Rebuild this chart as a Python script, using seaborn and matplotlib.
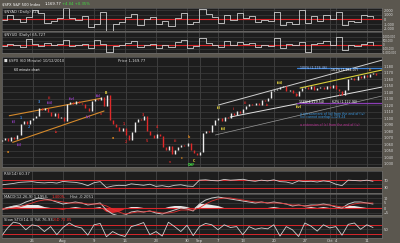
import numpy as np
import pandas as pd
import matplotlib
matplotlib.use("Agg")
import matplotlib.pyplot as plt
import seaborn as sns

# ---------------- data ----------------
title_name = "$SPX S&P 500 Index"
title_last = "1,169.77"
title_change = "+4.04 +0.35%"

tick_days = [0, 5, 10, 15, 20, 25, 30, 32, 35, 39, 44, 49, 53, 54, 59]
tick_labels = ["Jul", "26", "Aug", "9", "16", "23", "30", "Sep", "7", "13",
               "20", "27", "Oct", "4", "11"]

# closes, two per trading day (day = index / 2)
price_close = [1066.7, 1069.8, 1065.2, 1071.3, 1068.2, 1074.4, 1091.2, 1095.8, 1091.2, 1097.3,
               1100.4, 1103.4, 1115.7, 1112.6, 1115.7, 1109.6, 1103.4, 1108.0, 1100.4, 1101.9,
               1095.8, 1121.8, 1124.9, 1121.8, 1126.4, 1123.4, 1121.8, 1115.7, 1111.1, 1126.4,
               1129.5, 1127.9, 1132.5, 1118.8, 1135.6, 1097.3, 1091.2, 1086.6, 1080.5, 1085.1,
               1074.4, 1066.7, 1079.0, 1094.3, 1098.9, 1097.3, 1103.4, 1080.5, 1074.4, 1069.8,
               1075.9, 1072.8, 1056.0, 1051.4, 1057.5, 1045.3, 1051.4, 1056.0, 1059.0, 1057.5,
               1062.1, 1051.4, 1046.8, 1043.7, 1048.3, 1077.4, 1080.5, 1079.0, 1089.7, 1097.3,
               1100.4, 1095.8, 1101.9, 1100.4, 1108.0, 1105.0, 1111.1, 1108.0, 1114.2, 1118.8,
               1121.8, 1120.3, 1123.4, 1120.3, 1127.9, 1126.4, 1131.0, 1141.7, 1143.3, 1144.8,
               1147.8, 1149.4, 1141.7, 1143.3, 1138.7, 1134.1, 1141.7, 1146.3, 1147.8, 1144.8,
               1149.4, 1143.3, 1146.3, 1147.8, 1144.8, 1149.4, 1146.3, 1150.9, 1144.8, 1141.7,
               1135.6, 1143.3, 1160.1, 1161.6, 1158.6, 1164.7, 1161.6, 1166.2, 1163.2, 1167.8,
               1169.3, 1166.2]
price_ticks = [1180, 1170, 1160, 1150, 1140, 1130, 1120, 1110, 1100, 1090,
               1080, 1070, 1060, 1050, 1040, 1030]

# daily indicators (one value per trading day)
nyad = [-100, 1000, 100, -500, 500, 2000, 1400, -800, -300, 300,
        2400, 300, -100, 800, -1600, -1000, 1600, -2400, -1000, -600,
        500, 1200, -1200, 100, 500, -1000, -300, -1400, 300, 1400,
        -1000, -500, 2300, 1200, 600, -700, 1000, -100, 1400, 300,
        800, -500, -100, -300, 1600, -1200, -500, -1000, 2100, -700,
        800, -300, 1000, 100, 1600, -1200, -300, -500, 1000, 800, 300]
nyud = [-125000, 125000, 0, -250000, 750000, 125000, -125000, 250000, 0, 125000,
        625000, -125000, 0, 125000, -375000, 625000, 125000, -875000, -125000, 0,
        250000, 500000, -250000, 0, 125000, -375000, 0, -250000, 375000, 625000,
        -375000, -125000, 875000, 250000, 0, -250000, 500000, 0, 375000, 125000,
        250000, -250000, 0, -125000, 875000, -375000, 125000, 0, 375000, -875000,
        125000, 250000, 500000, 0, 1000000, -625000, 0, -125000, 125000, 375000, 0]
rsi = [44, 48, 52, 58, 60, 62, 57, 55, 58, 54,
       63, 60, 58, 52, 40, 56, 62, 30, 38, 42,
       40, 50, 46, 42, 48, 36, 40, 34, 42, 45,
       38, 36, 70, 72, 68, 66, 74, 70, 72, 75,
       68, 64, 70, 66, 72, 62, 60, 52, 66, 62,
       64, 60, 66, 62, 48, 40, 70, 68, 66, 70, 64]
macd = [-2, 0, 2, 3, 6, 8, 10, 9, 8, 6,
        4, 5, 6, 5, 3, 4, 5, -2, -6, -8,
        -7, -4, -3, -4, -3, -5, -6, -4, -2, 0,
        -1, -3, 4, 8, 10, 11, 10, 9, 8, 7,
        6, 5, 6, 5, 6, 5, 4, 2, 3, 2,
        3, 3, 4, 3, 1, 0, 4, 6, 6, 5, 4]
macd_signal = [-1, -1, 0, 1, 3, 5, 7, 8, 8, 7,
               6, 5, 5, 5, 4, 4, 4, 2, -1, -4,
               -6, -5, -4, -4, -3, -4, -5, -5, -4, -2,
               -2, -2, 0, 4, 7, 9, 10, 10, 9, 8,
               7, 6, 6, 5, 5, 5, 4, 3, 3, 2,
               2, 3, 3, 3, 2, 1, 2, 4, 5, 5, 5]
stoch_k = [2, 57, 99, 90, 48, 81, 72, 36, 69, 15,
           63, 93, 70, 60, 12, 81, 90, 1, 36, 15,
           3, 69, 81, 96, 15, 36, 6, 98, 69, 36,
           78, 9, 69, 90, 81, 48, 81, 63, 69, 15,
           69, 51, 60, 54, 81, 6, 69, 48, 3, 93,
           72, 39, 81, 60, 69, 12, 84, 93, 51, 81, 63]

# chartist annotations (day, price)
trend_lines = [
    (1.18, 1103.9, 15.97, 1130.5, "#d4892b", 0.8),
    (1.73, 1063.2, 16.5, 1111.1, "#d4892b", 0.8),
    (35.0, 1120.3, 61.45, 1189.0, "#cfcfcf", 0.7),
    (48.2, 1146.3, 61.45, 1173.9, "#d8cf3a", 0.8),
    (36.9, 1101.9, 61.45, 1147.8, "#e0e0e0", 0.7),
    (34.5, 1074.4, 61.45, 1134.1, "#9a9a9a", 0.5),
]
fib_lines = [(1176.5, 47.7, 61.45, "#3b82d6"), (1122.9, 47.7, 61.45, "#8c3db5")]
notes = [
    (1.9, 1173.9, "60 minute chart", "#ffffff"),
    (48.2, 1177.5, "100% (1,176.46)", "#9fc3ff"),
    (53.2, 1174.0, "161% (1,184.07)", "#ffffff"),
    (48.0, 1124.5, "123%(1,129.54)", "#ffffff"),
    (53.4, 1124.5, "62% (1,122.90)", "#ffffff"),
    (48.2, 1106.5, "a retracement of (iii) from the end of (iv)", "#3b9be6"),
    (48.2, 1101.9, "(iv) cannot overlap 1,129.24", "#3b9be6"),
    (48.2, 1089.7, "a extension of (c) from the end of (iv)", "#c0309a"),
]
wave_labels = [
    (0.97, 1048.3, "a", "#e08a20"), (1.94, 1094.3, "(i)", "#8c3db5"),
    (3.06, 1100.4, "1", "#3b82d6"), (2.74, 1059.0, "(ii)", "#8c3db5"),
    (4.35, 1086.6, "2", "#3b82d6"), (5.97, 1124.9, "3", "#3b82d6"),
    (7.74, 1130.5, "iii", "#d02a2a"), (7.74, 1123.4, "(iii)", "#8c3db5"),
    (8.87, 1079.0, "iv", "#d02a2a"), (11.29, 1129.5, "(iv)", "#8c3db5"),
    (14.03, 1101.9, "(v)", "#8c3db5"), (15.65, 1134.1, "(b)", "#8c3db5"),
    (16.77, 1138.0, "B", "#e8d840"), (15.97, 1106.5, "v", "#d02a2a"),
    (19.68, 1091.2, "1", "#d02a2a"), (20.0, 1063.6, "2", "#d02a2a"),
    (17.9, 1069.8, "a", "#e08a20"), (22.74, 1105.0, "3", "#d02a2a"),
    (25.0, 1086.6, "4", "#d02a2a"), (23.39, 1065.2, "5", "#d02a2a"),
    (28.06, 1065.2, "iii", "#d02a2a"), (27.1, 1033.0, "v", "#d02a2a"),
    (30.16, 1071.3, "b", "#e08a20"), (29.0, 1039.2, "c", "#e08a20"),
    (30.97, 1034.0, "C", "#e8d840"), (30.6, 1028.4, "DHF", "#3fd03f"),
    (35.0, 1115.7, "(i)", "#e8d840"), (35.8, 1083.5, "(ii)", "#e8d840"),
    (37.4, 1114.2, "i", "#d02a2a"), (39.35, 1123.4, "iii", "#d02a2a"),
    (42.9, 1120.3, "iv", "#d02a2a"), (45.0, 1154.0, "(iii)", "#e8d840"),
    (47.7, 1135.6, "v", "#d02a2a"), (48.06, 1117.2, "(iv)", "#e8d840"),
    (54.7, 1135.6, "ii", "#d02a2a"), (59.5, 1173.9, "iii", "#e08a20"),
]

# ---------------- style ----------------
BG = "#5b574f"
PANEL = "#1d1d1d"
GRID = "#3d3d3d"
VGRID = "#4a4a4a"
TXT = "#dcdcdc"
RED = "#d8262a"
W, H = 400.0, 243.0
FS = 2.7

sns.set_style("dark")
plt.rcParams["font.family"] = ["DejaVu Sans"]

fig = plt.figure(figsize=(4.0, 2.43), dpi=100, facecolor=BG)

XMIN, XMAX = 0.16, 61.45


def panel(top, bottom):
    ax = fig.add_axes([2 / W, 1 - bottom / H, 380 / W, (bottom - top) / H])
    ax.set_facecolor(PANEL)
    ax.set_xlim(XMIN, XMAX)
    ax.set_xticks(tick_days)
    ax.grid(False)
    for x in tick_days:
        ax.axvline(x, color=VGRID, lw=0.5, zorder=0)
    for s in ax.spines.values():
        s.set_color("#6e6e6e")
        s.set_linewidth(0.4)
    ax.yaxis.tick_right()
    ax.tick_params(axis="y", labelsize=FS, colors=TXT, length=0, pad=1.2)
    ax.tick_params(axis="x", length=0, labelbottom=False)
    ax.set_xlabel("")
    ax.set_ylabel("")
    return ax


def hgrid(ax, vals):
    for v in vals:
        ax.axhline(v, color=GRID, lw=0.5, zorder=0)


days = np.arange(len(nyad))

# title row
fig.text(2 / W, 1 - 4 / H, title_name, fontsize=FS, color="#ffffff", va="center")
fig.text(45 / W, 1 - 4 / H, title_last, fontsize=FS, color="#ffffff", va="center")
fig.text(62 / W, 1 - 4 / H, title_change, fontsize=FS, color="#40e040", va="center")

# panel 1: NYAD
ax1 = panel(8, 31)
ax1.set_ylim(-2500, 2500)
p1_ticks = [2000, 1000, 0, -1000, -2000]
hgrid(ax1, p1_ticks)
ax1.set_yticks(p1_ticks)
ax1.set_yticklabels([f"{v:,}" for v in p1_ticks])
ax1.tick_params(axis="y", labelsize=2.4)
ax1.axhline(0, color=RED, lw=0.8)
sns.lineplot(x=days, y=nyad, ax=ax1, color="#d0d0d0", lw=0.6, drawstyle="steps-post", legend=False)
ax1.set_xlim(XMIN, XMAX)
ax1.text(0.005, 0.93, "$NYAD (Daily) 228", transform=ax1.transAxes, fontsize=FS, color=TXT, va="top")

# panel 2: NYUD
ax2 = panel(32, 53)
ax2.set_ylim(-1000000, 1625000)
p2_ticks = [1000000, 500000, 0, -500000, -1000000]
hgrid(ax2, p2_ticks)
ax2.set_yticks(p2_ticks)
ax2.set_yticklabels([f"{v:,}" for v in p2_ticks])
ax2.tick_params(axis="y", labelsize=1.9, pad=0.6)
ax2.axhline(0, color=RED, lw=0.8)
sns.lineplot(x=days, y=nyud, ax=ax2, color="#d0d0d0", lw=0.6, drawstyle="steps-post", legend=False)
ax2.set_xlim(XMIN, XMAX)
ax2.text(0.005, 0.95, "$NYUD (Daily) 65,727", transform=ax2.transAxes, fontsize=FS, color=TXT, va="top")

# main price panel
axm = panel(57, 167)
axm.set_ylim(1025.4, 1193.8)
hgrid(axm, price_ticks)
axm.set_yticks(price_ticks)
axm.set_yticklabels([f"{v:,}" for v in price_ticks])
axm.tick_params(axis="y", labelsize=2.5)
close = np.array(price_close)
xs = np.arange(len(close)) / 2.0
prev = np.concatenate([[close[0] - 1.5], close[:-1]])
up = close >= prev
axm.vlines(xs[up], prev[up], close[up], colors="#ececec", lw=1.0, zorder=3)
axm.vlines(xs[~up], close[~up], prev[~up], colors="#e02a2a", lw=1.0, zorder=3)
for d0, p0, d1, p1, c, lw in trend_lines:
    axm.plot([d0, d1], [p0, p1], color=c, lw=lw, zorder=2)
for pr, d0, d1, c in fib_lines:
    axm.plot([d0, d1], [pr, pr], color=c, lw=0.9, zorder=2)
for d, pr, t, c in notes:
    axm.text(d, pr, t, fontsize=2.3, color=c, va="center", zorder=5)
for d, pr, t, c in wave_labels:
    axm.text(d, pr, t, fontsize=2.3, color=c, va="center", ha="center", zorder=5,
             fontweight="bold")
axm.text(0.005, 0.985, "\u25a0 $SPX (60 Minute) 10/12/2010", transform=axm.transAxes,
         fontsize=FS, color=TXT, va="top")
axm.text(0.305, 0.985, "Price 1,169.77", transform=axm.transAxes,
         fontsize=FS, color=TXT, va="top")

# RSI
axr = panel(171, 193)
axr.set_ylim(0, 120)
hgrid(axr, [70, 50, 30])
axr.set_yticks([70, 30])
axr.axhline(70, color=RED, lw=0.7)
axr.axhline(30, color=RED, lw=0.7)
sns.lineplot(x=days, y=rsi, ax=axr, color="#d0d0d0", lw=0.6, legend=False)
axr.set_xlim(XMIN, XMAX)
axr.text(0.005, 0.95, "RSI(14) 60.37", transform=axr.transAxes, fontsize=FS, color=TXT, va="top")

# MACD
axd = panel(194, 215)
axd.set_ylim(-7, 14)
md = np.array(macd, dtype=float)
sg = np.array(macd_signal, dtype=float)
hist = md - sg
hgrid(axd, [10, 5, 0, -5])
axd.set_yticks([10, 5, 0, -5])
axd.tick_params(axis="y", labelsize=2.4)
axd.fill_between(days, 0, hist, where=hist >= 0, color="#e8e8e8", lw=0, interpolate=True, zorder=2)
axd.fill_between(days, 0, hist, where=hist < 0, color=RED, lw=0, interpolate=True, zorder=2)
axd.axhline(0, color=RED, lw=0.8, zorder=2)
sns.lineplot(x=days, y=md, ax=axd, color="#c8c8c8", lw=0.7, legend=False)
sns.lineplot(x=days, y=sg, ax=axd, color="#e23030", lw=0.6, legend=False)
axd.set_xlim(XMIN, XMAX)
axd.text(0.005, 0.95, "MACD(12,26,9) 1.1954,", transform=axd.transAxes, fontsize=FS, color=TXT, va="top")
axd.text(0.13, 0.95, "1.4005,", transform=axd.transAxes, fontsize=FS, color="#ff3030", va="top")
axd.text(0.18, 0.95, "Hist -0.2051", transform=axd.transAxes, fontsize=FS, color=TXT, va="top")

# Stochastic
axs = panel(217, 238)
axs.set_ylim(-7, 133)
hgrid(axs, [80, 50, 20])
axs.set_yticks([50])
axs.axhline(80, color=RED, lw=0.7)
axs.axhline(20, color=RED, lw=0.7)
sns.lineplot(x=days, y=stoch_k, ax=axs, color="#d0d0d0", lw=0.6, legend=False)
axs.set_xlim(XMIN, XMAX)
axs.text(0.005, 0.95, "Slow STO(14,3) %K 76.93,", transform=axs.transAxes, fontsize=FS, color=TXT, va="top")
axs.text(0.135, 0.95, "%D 72.05", transform=axs.transAxes, fontsize=FS, color="#ff3030", va="top")
axs.set_xticklabels(tick_labels)
axs.tick_params(axis="x", labelbottom=True, labelsize=FS, colors=TXT, pad=1.0)
axs.get_xticklabels()[0].set_ha("left")

fig.savefig("out.png", dpi=100, facecolor=BG)
